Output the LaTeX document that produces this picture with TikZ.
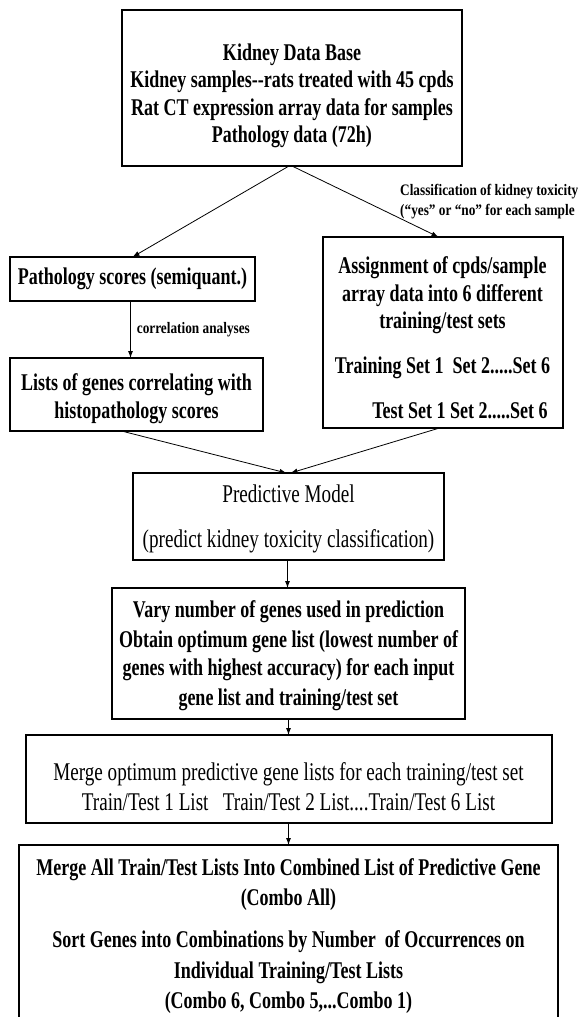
\documentclass[tikz,border=0pt]{standalone}
\usepackage{fontspec}
\setmainfont{Liberation Serif}[FakeStretch=0.75]
\newfontfamily\tagfont{Liberation Serif}[FakeStretch=0.83]
\usetikzlibrary{positioning,arrows.meta}

\tikzset{
  box/.style={draw, line width=2pt, outer sep=0pt, inner sep=0pt, align=center,
    font=\fontsize{24}{28}\selectfont\bfseries},
  plainbox/.style={box, line width=1.4pt, font=\fontsize{25.5}{30}\selectfont},
  link/.style={-{Latex[length=7pt,width=5pt]}, line width=0.8pt},
  tag/.style={inner sep=0pt, font=\tagfont\fontsize{16}{20}\selectfont\bfseries}
}

\begin{document}
\begin{tikzpicture}[x=1pt,y=-1pt]
\useasboundingbox (0,0) rectangle (579,1017);
\fill[white] (0,0) rectangle (579,1017);
\clip (0,0) rectangle (579,1017);

\node[box, minimum width=340pt, minimum height=156pt] (kdb) at (292,88)
  {\rule{0pt}{32pt}Kidney Data Base\\[-0.7pt]Kidney samples-{}-rats treated with 45 cpds\\[-0.7pt]Rat CT expression array data for samples\\[-0.7pt]Pathology data (72h)};

\node[box, minimum width=245pt, minimum height=44pt] (patho) at (132.5,279) {Pathology scores (semiquant.)};
\node[box, minimum width=253pt, minimum height=73pt] (genes) [below=57pt of patho, xshift=4pt]
  {\rule{0pt}{25.5pt}Lists of genes correlating with\\histopathology scores};

\node[box, minimum width=240pt, minimum height=191pt] (assign) at (442.5,332.5)
  {\rule{0pt}{26.5pt}Assignment of cpds/sample\\array data into 6 different\\[-1pt]training/test sets\\[17pt]Training Set 1\ \ Set 2.....Set 6\\[17pt]\hspace*{35pt}Test Set 1 Set 2.....Set 6};
\node[tag, anchor=west, align=left] (clsnote) at (400,202) {Classification of kidney toxicity\\(“yes” or “no” for each sample};

\node[plainbox, minimum width=311pt, minimum height=87pt] (model) at (288.5,516.5)
  {\rule{0pt}{23.4pt}Predictive Model\\[15pt](predict kidney toxicity classification)};

\node[box, minimum width=353pt, minimum height=131pt] (vary) [below=28pt of model]
  {\rule{0pt}{21.5pt}Vary number of genes used in prediction\\[2pt]Obtain optimum gene list (lowest number of\\genes with highest accuracy) for each input\\[2pt]gene list and training/test set};

\node[plainbox, line width=2pt, minimum width=526pt, minimum height=88pt] (merge) [below=16pt of vary]
  {\rule{0pt}{33.4pt}Merge optimum predictive gene lists for each training/test set\\Train/Test 1 List\ \ \ Train/Test 2 List....Train/Test 6 List};

\node[box, minimum width=539pt, minimum height=183pt] (combo) [below=22pt of merge]
  {Merge All Train/Test Lists Into Combined List of Predictive Gene\\[2pt](Combo All)\\[14pt]Sort Genes into Combinations by Number\ \ of Occurrences on\\[3pt]Individual Training/Test Lists\\[2pt](Combo 6, Combo 5,...Combo 1)};

\draw[link] ([xshift=-3pt]kdb.south) -- (patho.north);
\draw[link] (kdb.south) -- ([xshift=-4pt]assign.north);
\draw[link] ([xshift=-2pt]patho.south) -- ([xshift=-2pt]patho.south |- genes.north)
  node[tag, midway, right=6pt] (corr) {correlation analyses};
\draw[link] ([xshift=-15pt]genes.south) -- ([xshift=-2pt]model.north);
\draw[link] ([xshift=-3pt]assign.south) -- ([xshift=2pt]model.north);
\draw[link] ([xshift=-1pt]model.south) -- ([xshift=-1pt]vary.north);
\draw[link] (vary.south) -- (vary.south |- merge.north);
\draw[link] (merge.south) -- (merge.south |- combo.north);
\end{tikzpicture}
\end{document}
